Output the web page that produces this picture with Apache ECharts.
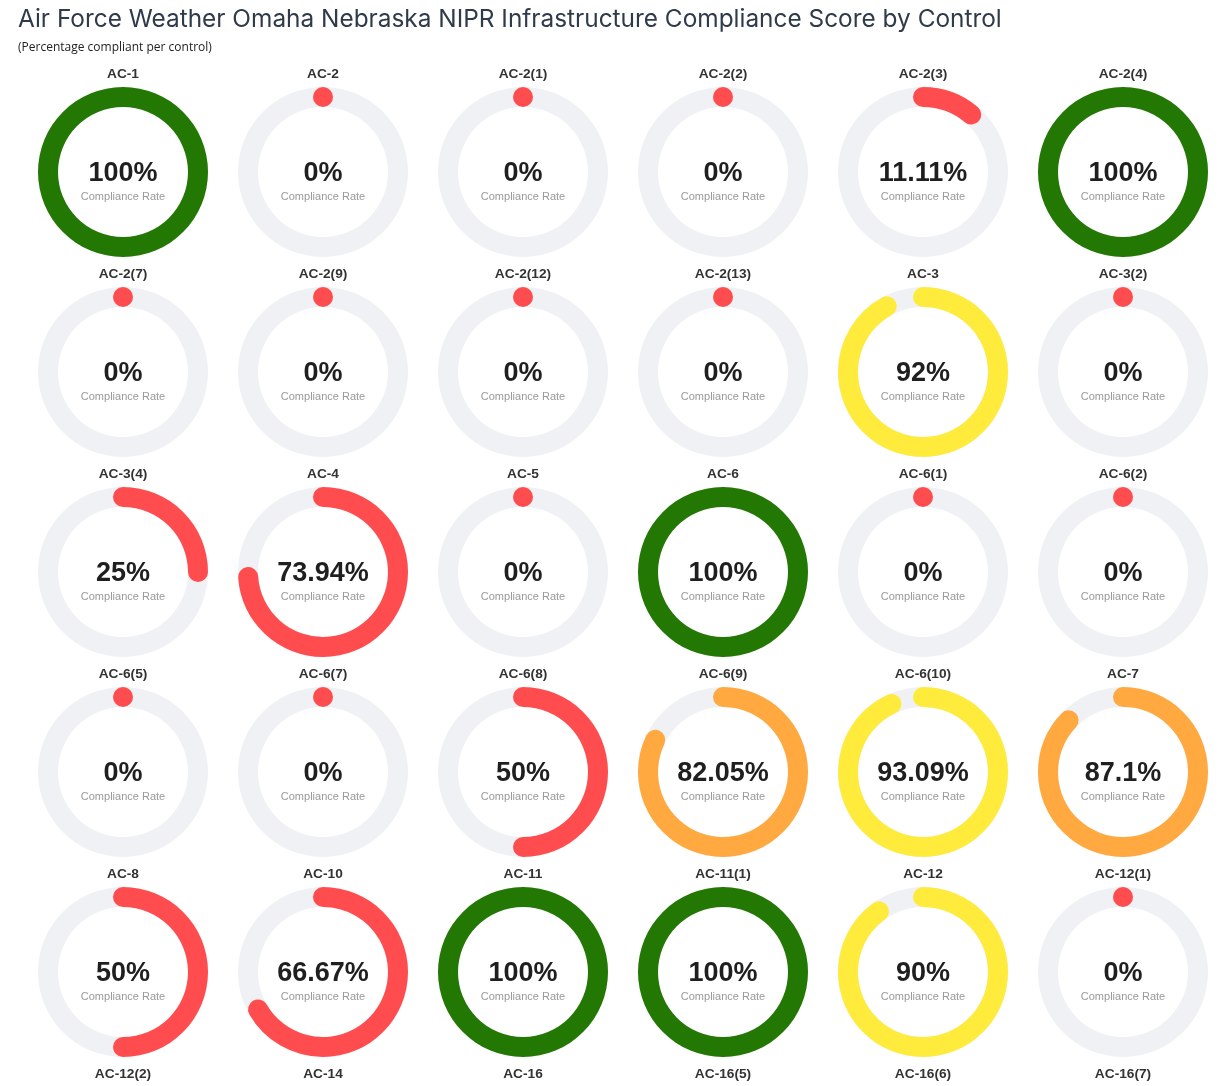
<!DOCTYPE html>
<html>
<head>
<meta charset="utf-8">
<script src="https://cdn.jsdelivr.net/npm/echarts@6/dist/echarts.min.js"></script>
<style>
  html, body { margin: 0; padding: 0; background: #fff; overflow: hidden; }
  #main { width: 1225px; height: 1086px; }
</style>
</head>
<body>
<div id="main"></div>
<script>
// controls, in reading order (6 per row)
var controls = [
  'AC-1', 'AC-2', 'AC-2(1)', 'AC-2(2)', 'AC-2(3)', 'AC-2(4)',
  'AC-2(7)', 'AC-2(9)', 'AC-2(12)', 'AC-2(13)', 'AC-3', 'AC-3(2)',
  'AC-3(4)', 'AC-4', 'AC-5', 'AC-6', 'AC-6(1)', 'AC-6(2)',
  'AC-6(5)', 'AC-6(7)', 'AC-6(8)', 'AC-6(9)', 'AC-6(10)', 'AC-7',
  'AC-8', 'AC-10', 'AC-11', 'AC-11(1)', 'AC-12', 'AC-12(1)',
  'AC-12(2)', 'AC-14', 'AC-16', 'AC-16(5)', 'AC-16(6)', 'AC-16(7)'
];
// compliance % per control (last row is below the visible area -> unknown)
var scores = [
  100, 0, 0, 0, 11.11, 100,
  0, 0, 0, 0, 92, 0,
  25, 73.94, 0, 100, 0, 0,
  0, 0, 50, 82.05, 93.09, 87.1,
  50, 66.67, 100, 100, 90, 0,
  null, null, null, null, null, null
];

var cols = 6;
var FONT = "'Liberation Sans', Arial, Helvetica, sans-serif";

// colour by compliance level
function scoreColor(v) {
  if (v >= 100) return '#237804';
  if (v >= 90) return '#FFEB3B';
  if (v >= 80) return '#FFA940';
  return '#FF4D4F';
}

var chart = echarts.init(document.getElementById('main'));

var series = controls.map(function (name, i) {
  var col = i % cols;
  var row = Math.floor(i / cols);
  var v = scores[i];
  return {
    type: 'gauge',
    center: [123 + col * 200, 172 + row * 200],
    radius: 85,
    startAngle: 90,
    endAngle: -270,
    min: 0,
    max: 100,
    pointer: { show: false },
    progress: {
      show: v !== null,
      roundCap: true,
      width: 20,
      itemStyle: { color: v === null ? 'transparent' : scoreColor(v) }
    },
    axisLine: {
      lineStyle: { width: 20, color: [[1, '#F0F1F5']] }
    },
    splitLine: { show: false },
    axisTick: { show: false },
    axisLabel: { show: false },
    anchor: { show: false },
    title: {
      show: true,
      offsetCenter: [0, -98],
      fontSize: 13.7,
      fontWeight: 'bold',
      fontFamily: FONT,
      color: '#333'
    },
    detail: {
      show: v !== null,
      offsetCenter: [0, 10],
      fontFamily: FONT,
      fontWeight: 'normal',
      formatter: function (val) {
        return '{v|' + val + '%}\n{s|Compliance Rate}';
      },
      rich: {
        v: { fontSize: 27, fontWeight: 'bold', color: '#1f1f1f', lineHeight: 30, fontFamily: FONT },
        s: { fontSize: 11, fontWeight: 'normal', color: '#999', lineHeight: 16, fontFamily: FONT }
      }
    },
    data: [{ value: v === null ? 0 : v, name: name }]
  };
});

chart.setOption({
  backgroundColor: '#ffffff',
  animation: false,
  title: {
    text: 'Air Force Weather Omaha Nebraska NIPR Infrastructure Compliance Score by Control',
    subtext: '(Percentage compliant per control)',
    left: 13,
    top: 3,
    itemGap: 10,
    textStyle: { fontSize: 24.4, fontWeight: 'normal', color: '#2f3a4a', fontFamily: 'Inter, Lato, sans-serif' },
    subtextStyle: { fontSize: 12, color: '#222', fontFamily: "'Open Sans', sans-serif" }
  },
  series: series
});
</script>
</body>
</html>
